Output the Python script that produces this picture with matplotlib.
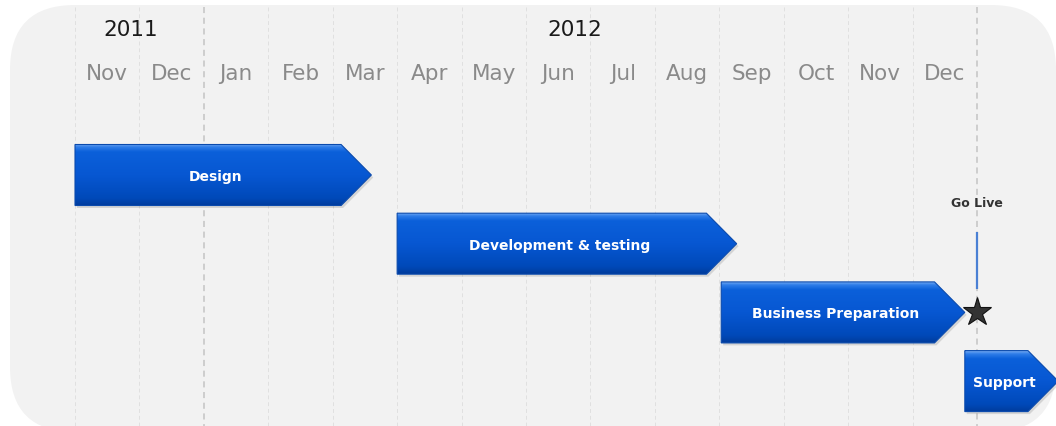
import numpy as np
import matplotlib
matplotlib.use('Agg')
import matplotlib.pyplot as plt
from matplotlib.patches import FancyBboxPatch, Polygon
from matplotlib.colors import to_rgb

# months since 1 Nov 2011
month_labels = ['Nov', 'Dec', 'Jan', 'Feb', 'Mar', 'Apr', 'May', 'Jun', 'Jul',
                'Aug', 'Sep', 'Oct', 'Nov', 'Dec']
years = ['2011', '2012']
year_pos = [0.87, 7.75]
year_breaks = [2]

tasks = ['Design', 'Development & testing', 'Business Preparation', 'Support']
task_start = [0.0, 5.0, 10.03, 13.81]
task_end = [4.6, 10.27, 13.81, 15.26]

milestone = 'Go Live'
milestone_month = 14.0

# layout (pixels, y down)
W, H = 1056, 427
px_per_month = 64.43
x0_px = 75
row_y0, row_step, half_h = 176, 68.7, 30.5
tip = 0.47

fig = plt.figure(figsize=(W / 100, H / 100), dpi=100)

# background panel in pixel space
bg = fig.add_axes([0, 0, 1, 1])
bg.set_xlim(0, W)
bg.set_ylim(H, 0)
bg.axis('off')
bg.add_patch(FancyBboxPatch((10, 6), 1046, 427, boxstyle='round,pad=0,rounding_size=65',
                            fc='#f2f2f2', ec='none'))

ax = fig.add_axes([0, 0, 1, 1])
ax.patch.set_alpha(0)
ax.axis('off')
xl = (-x0_px / px_per_month, (W - x0_px) / px_per_month)

# month grid
for m in range(len(month_labels) + 1):
    major = m in year_breaks or m == milestone_month
    ax.vlines(m, 8, 433, colors='#c4c4c4' if major else '#e0e0e0',
              lw=1.1 if major else 0.7, linestyles=(0, (4, 3)), zorder=1)

for i, lab in enumerate(month_labels):
    ax.text(i + 0.5, 74, lab, ha='center', va='center', fontsize=15.5,
            color='#8a8a8a', zorder=2)
for yr, p in zip(years, year_pos):
    ax.text(p, 30, yr, ha='center', va='center', fontsize=15.5, color='#1a1a1a', zorder=2)

# gradient stops for the bars (top -> bottom)
stops = [0.0, 0.04, 0.12, 0.5, 0.88, 1.0]
cols = np.array([to_rgb(c) for c in ['#6aa4f2', '#2f7de8', '#0b60da', '#0757d2',
                                      '#0049b9', '#003c9c']])
t = np.linspace(0, 1, 64)
grad = np.stack([np.interp(t, stops, cols[:, k]) for k in range(3)], axis=1)[:, None, :]

for i, (name, s, e) in enumerate(zip(tasks, task_start, task_end)):
    yc = row_y0 + row_step * i
    top, bot = yc - half_h, yc + half_h
    pts = [(s, top), (e - tip, top), (e, yc), (e - tip, bot), (s, bot)]
    shadow = [(x + 0.03, y + 2.5) for x, y in pts]
    ax.add_patch(Polygon(shadow, closed=True, fc='black', ec='none', alpha=0.12, zorder=2))
    poly = Polygon(pts, closed=True, fc='none', ec='#0a4aad', lw=0.8, zorder=4)
    ax.add_patch(poly)
    im = ax.imshow(grad, extent=(s, e, bot, top), origin='upper', aspect='auto',
                   interpolation='bilinear', zorder=3)
    im.set_clip_path(poly)
    cx = (s + e - tip / 2) / 2
    ax.text(cx, yc + 1, name, ha='center', va='center', fontsize=10,
            fontweight='bold', color='white', zorder=5)

# go live milestone
ms_y = row_y0 + row_step * 2
ax.vlines(milestone_month, 233, 290, colors='#4a80d4', lw=1.6, zorder=4)
ax.plot(milestone_month, ms_y, marker='*', markersize=21, color='#333333',
        markeredgecolor='#111111', markeredgewidth=0.8, zorder=6)
ax.text(milestone_month, 204, milestone, ha='center', va='center', fontsize=9,
        fontweight='bold', color='#333333', zorder=5)

ax.set_xlim(*xl)
ax.set_ylim(H, 0)

fig.savefig('out.png', dpi=100, facecolor='white')
